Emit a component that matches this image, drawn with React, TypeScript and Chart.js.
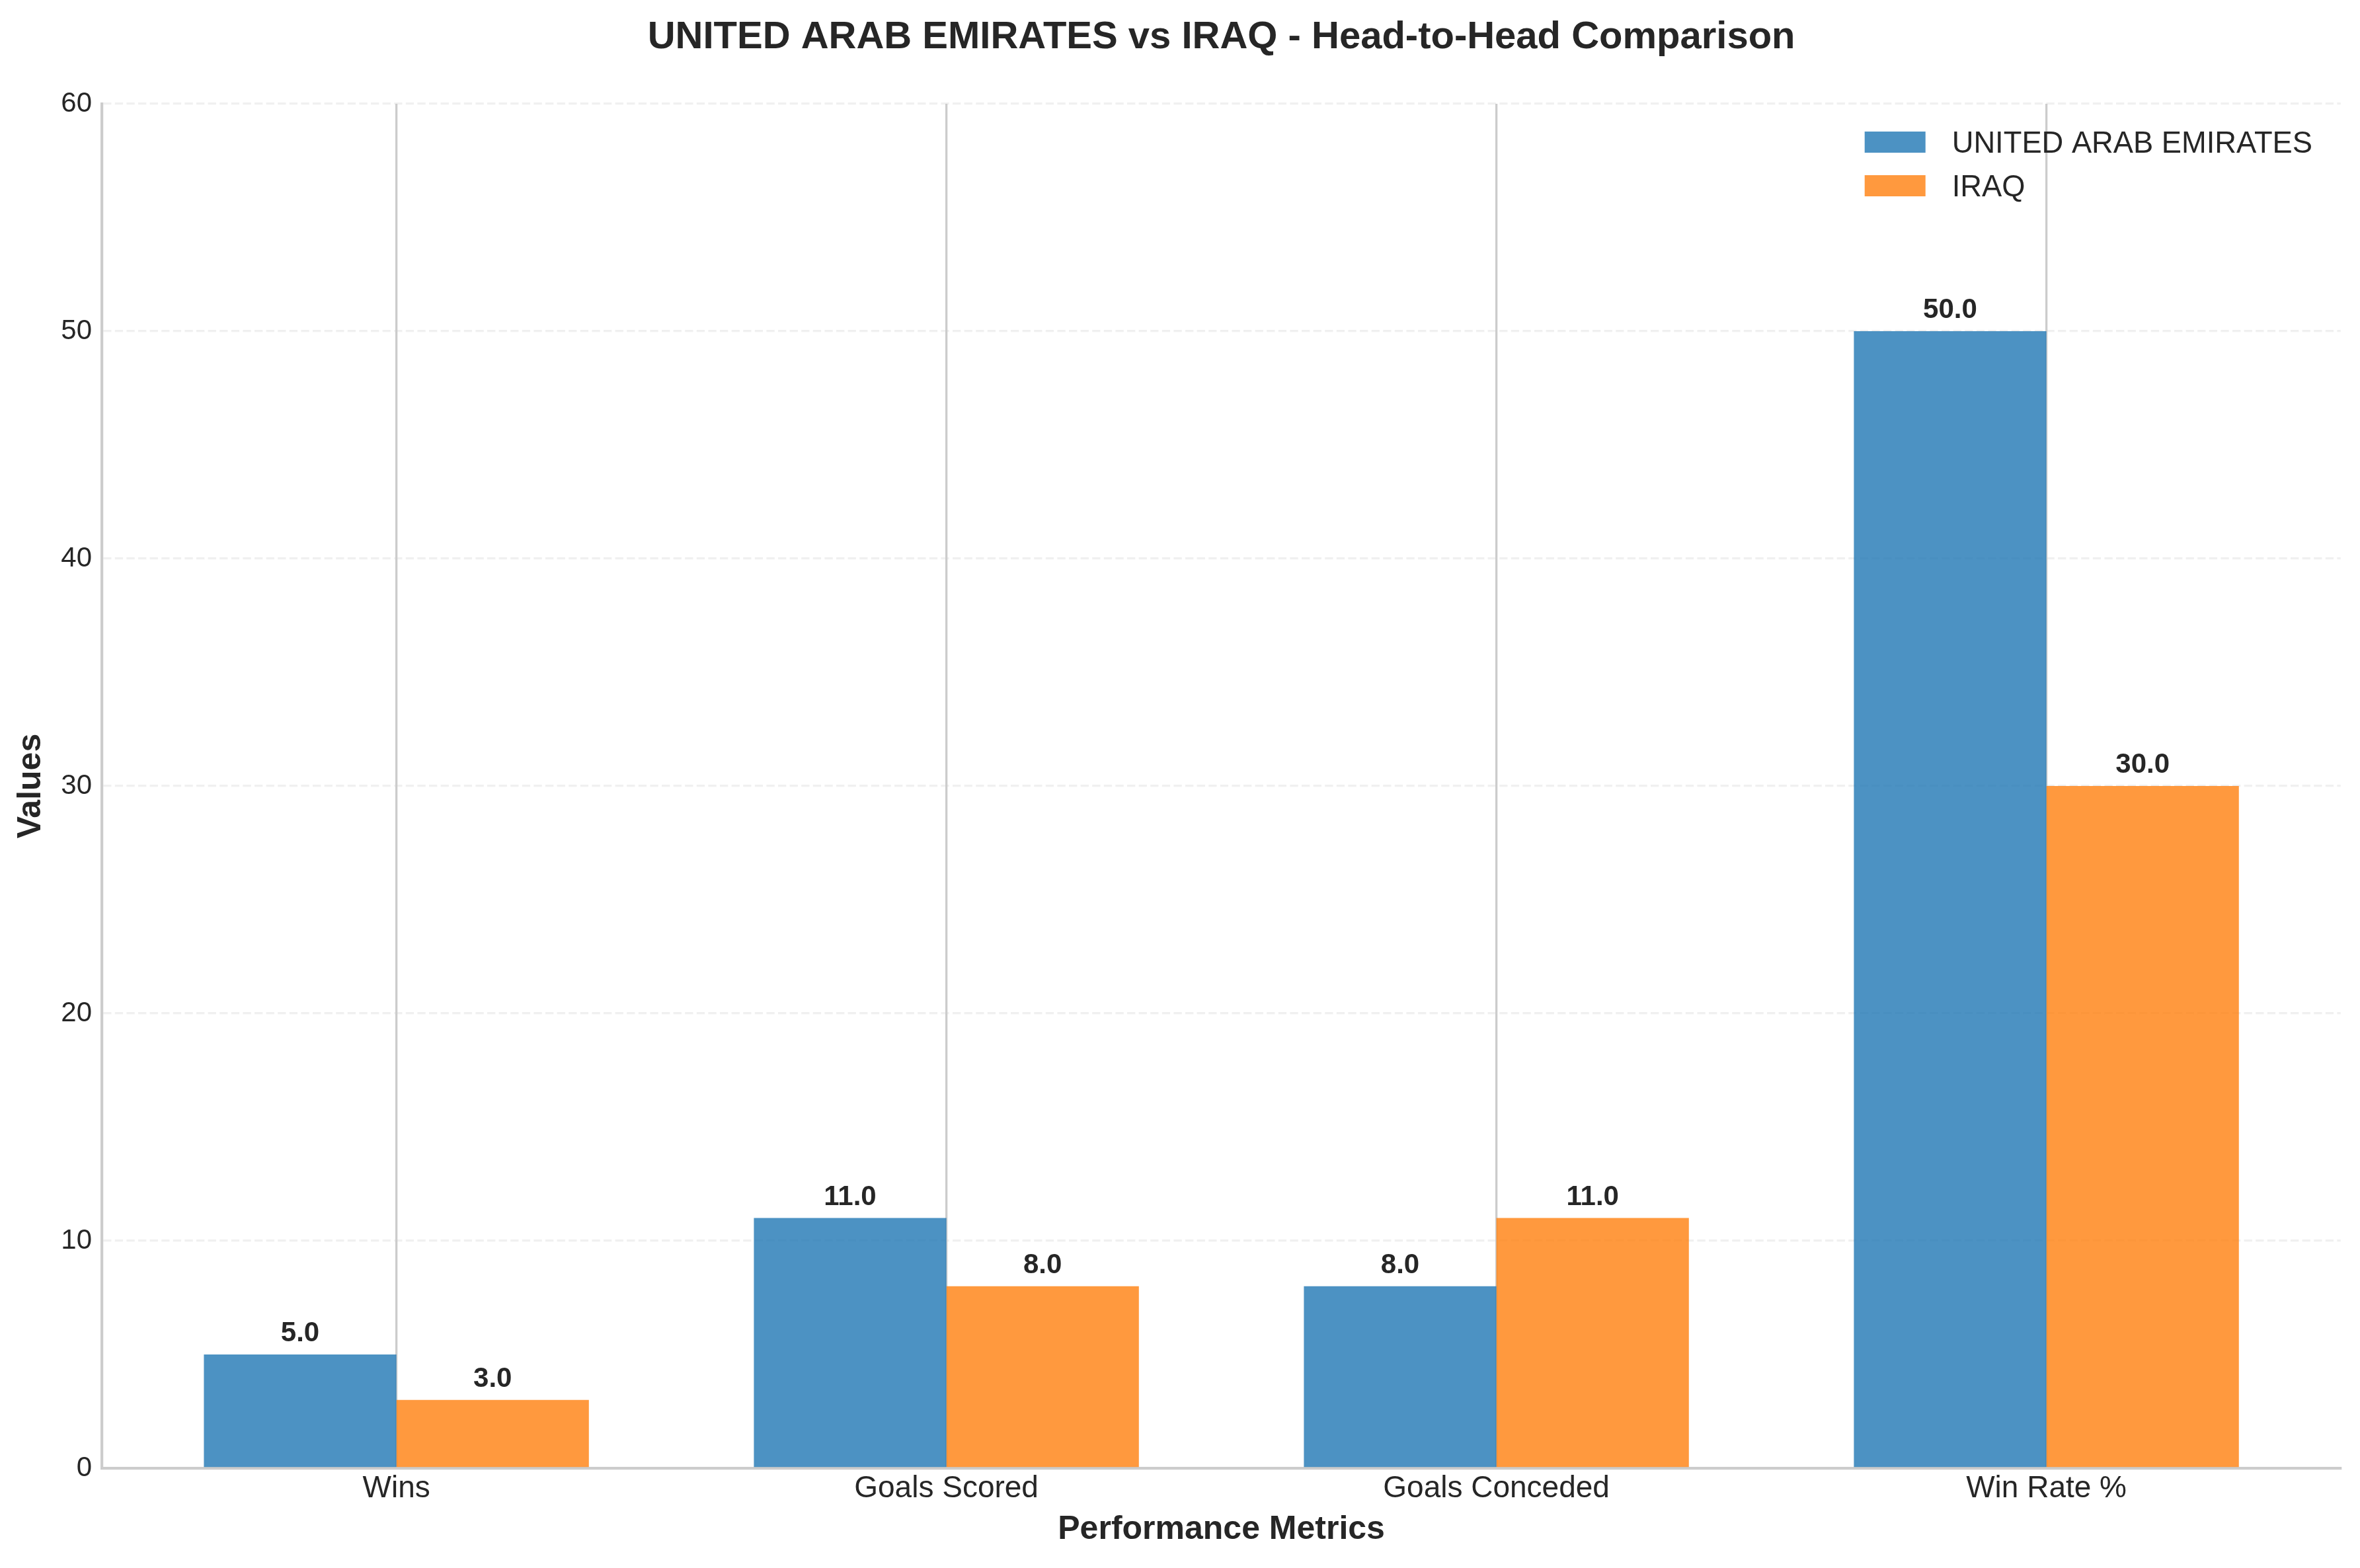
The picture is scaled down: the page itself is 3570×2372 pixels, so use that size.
import React, { useEffect, useRef } from "react";
import { Chart, registerables } from "chart.js";

Chart.register(...registerables);

// ---- data ----
const categories = ["Wins", "Goals Scored", "Goals Conceded", "Win Rate %"];
const teamNames = ["UNITED ARAB EMIRATES", "IRAQ"];
const uaeValues = [5, 11, 8, 50];
const iraqValues = [3, 8, 11, 30];
const yTickValues = [0, 10, 20, 30, 40, 50, 60];

const titleText = "UNITED ARAB EMIRATES vs IRAQ - Head-to-Head Comparison";
const xAxisTitle = "Performance Metrics";
const yAxisTitle = "Values";

// ---- styling ----
const FONT = "'Liberation Sans', Arial, Helvetica, sans-serif";
const TEXT = "#262626";
const BLUE = "rgba(31, 119, 180, 0.8)";
const ORANGE = "rgba(255, 127, 14, 0.8)";
const SPINE = "#cccccc";

const W = 3570;
const H = 2372;

// Chart title centred over the plot area
const titlePlugin = {
  id: "headTitle",
  afterDraw(chart: any) {
    const { ctx, chartArea } = chart;
    ctx.save();
    ctx.font = `bold 58px ${FONT}`;
    ctx.fillStyle = TEXT;
    ctx.textAlign = "center";
    ctx.textBaseline = "alphabetic";
    ctx.fillText(titleText, (chartArea.left + chartArea.right) / 2, 73);
    ctx.restore();
  },
};

// Value text above each bar
const valueLabelPlugin = {
  id: "valueLabels",
  afterDatasetsDraw(chart: any) {
    const { ctx } = chart;
    const yScale = chart.scales.y;
    ctx.save();
    ctx.font = `bold 42px ${FONT}`;
    ctx.fillStyle = TEXT;
    ctx.textAlign = "center";
    ctx.textBaseline = "alphabetic";
    chart.data.datasets.forEach((ds: any, di: number) => {
      const meta = chart.getDatasetMeta(di);
      meta.data.forEach((bar: any, i: number) => {
        const v = ds.data[i].y;
        ctx.fillText(v.toFixed(1), bar.x, yScale.getPixelForValue(v) - 20);
      });
    });
    ctx.restore();
  },
};

// Legend in the upper-right corner of the plot area
const cornerLegendPlugin = {
  id: "cornerLegend",
  afterDraw(chart: any) {
    const { ctx, chartArea } = chart;
    const boxLeft = chartArea.right - 720;
    const boxW = 92;
    const boxH = 32;
    const textLeft = boxLeft + 132;
    const firstBaseline = chartArea.top + 74;
    const rowGap = 66;
    ctx.save();
    ctx.font = `45.3px ${FONT}`;
    ctx.textAlign = "left";
    ctx.textBaseline = "alphabetic";
    chart.data.datasets.forEach((ds: any, i: number) => {
      const base = firstBaseline + i * rowGap;
      ctx.fillStyle = ds.backgroundColor;
      ctx.fillRect(boxLeft, base - boxH, boxW, boxH);
      ctx.fillStyle = TEXT;
      ctx.fillText(ds.label, textLeft, base);
    });
    ctx.restore();
  },
};

export default function App() {
  const canvasRef = useRef<HTMLCanvasElement | null>(null);

  useEffect(() => {
    const canvas = canvasRef.current;
    if (!canvas) return;

    const toPoints = (vals: number[]) => vals.map((v, i) => ({ x: i, y: v }));

    const chart = new Chart(canvas, {
      type: "bar",
      data: {
        datasets: [
          {
            label: teamNames[0],
            data: toPoints(uaeValues),
            backgroundColor: BLUE,
            borderWidth: 0,
          },
          {
            label: teamNames[1],
            data: toPoints(iraqValues),
            backgroundColor: ORANGE,
            borderWidth: 0,
          },
        ],
      } as any,
      options: {
        animation: false,
        responsive: false,
        devicePixelRatio: 1,
        layout: { padding: { top: 157, left: 17.5, right: 29.3, bottom: 0 } },
        datasets: {
          bar: { categoryPercentage: 0.7, barPercentage: 1.0 },
        },
        plugins: {
          legend: { display: false },
          tooltip: { enabled: false },
          title: { display: false },
        },
        scales: {
          x: {
            type: "linear",
            min: -0.535,
            max: 3.535,
            offset: false,
            afterBuildTicks: (axis: any) => {
              axis.ticks = categories.map((_, i) => ({ value: i }));
            },
            afterFit: (axis: any) => {
              axis.height = 151;
            },
            ticks: {
              autoSkip: false,
              maxRotation: 0,
              padding: 4,
              color: TEXT,
              font: { family: FONT, size: 46 },
              callback: (v: any) => categories[Math.round(Number(v))] ?? "",
            },
            grid: {
              offset: false,
              color: SPINE,
              lineWidth: 3.3,
              drawTicks: false,
            },
            border: { display: true, color: SPINE, width: 4.2 },
            title: {
              display: true,
              text: xAxisTitle,
              color: TEXT,
              font: { family: FONT, size: 50, weight: "bold" },
              padding: { top: 0, bottom: 28 },
            },
          },
          y: {
            type: "linear",
            min: 0,
            max: 60,
            afterBuildTicks: (axis: any) => {
              axis.ticks = yTickValues.map((v) => ({ value: v }));
            },
            afterFit: (axis: any) => {
              axis.width = 137;
            },
            ticks: {
              padding: 15.5,
              color: TEXT,
              font: { family: FONT, size: 42 },
              callback: (v: any) => String(v),
            },
            grid: {
              color: "rgba(204, 204, 204, 0.3)",
              lineWidth: 3.3,
              drawTicks: false,
            },
            border: { display: true, color: SPINE, width: 4.2, dash: [12.3, 5.3] },
            title: {
              display: true,
              text: yAxisTitle,
              color: TEXT,
              font: { family: FONT, size: 50, weight: "bold" },
              padding: { top: 0, bottom: 0 },
            },
          },
        },
      } as any,
      plugins: [titlePlugin, valueLabelPlugin, cornerLegendPlugin],
    });

    return () => chart.destroy();
  }, []);

  return (
    <div style={{ position: "absolute", left: 0, top: 0, width: W, height: H, background: "#ffffff" }}>
      <canvas ref={canvasRef} width={W} height={H} style={{ display: "block", width: W, height: H }} />
    </div>
  );
}
